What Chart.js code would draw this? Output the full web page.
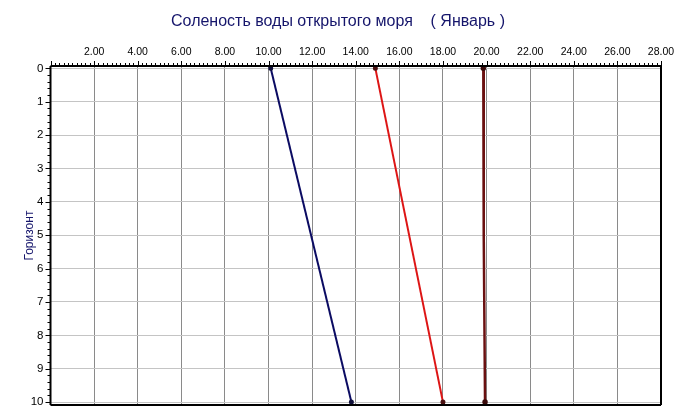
<!DOCTYPE html>
<html>
<head>
<meta charset="utf-8">
<script src="https://cdn.jsdelivr.net/npm/chart.js"></script>
<style>
  body { margin: 0; background: #fff; }
  #wrap { position: relative; width: 675px; height: 419px; }
</style>
</head>
<body>
<div id="wrap"><canvas id="chart" width="675" height="419"></canvas></div>
<script>
const chartTitle = 'Соленость воды открытого моря    ( Январь )';
const yTitle = 'Горизонт';

// depth horizons and salinity per series
const depthsA = [0, 10];
const salinityA = [10.1, 13.8];
const depthsB = [0, 10];
const salinityB = [14.9, 18.0];
const depthsC = [0, 5, 10];
const salinityC = [19.85, 19.87, 19.93];

const xTicks = [0, 2, 4, 6, 8, 10, 12, 14, 16, 18, 20, 22, 24, 26, 28];
const yTicks = [0, 1, 2, 3, 4, 5, 6, 7, 8, 9, 10];

const toPoints = (xs, ys) => xs.map((x, i) => ({ x: x, y: ys[i] }));

// title, outer frame and minor tick marks
const decor = {
  id: 'decor',
  afterDraw(chart) {
    const ctx = chart.ctx;
    const area = chart.chartArea;
    const xs = chart.scales.x;
    const ys = chart.scales.y;
    ctx.save();
    ctx.fillStyle = '#15156b';
    ctx.font = '16px "Liberation Sans", Arial, sans-serif';
    ctx.textAlign = 'center';
    ctx.textBaseline = 'middle';
    ctx.fillText(chartTitle, 338, 22);

    ctx.strokeStyle = '#000';
    ctx.lineWidth = 1;
    ctx.beginPath();
    // top axis ticks
    for (let v = 0; v <= 28.001; v += 0.2) {
      const px = Math.round(xs.getPixelForValue(v)) + 0.5;
      const major = Math.abs(v / 2 - Math.round(v / 2)) < 0.001;
      ctx.moveTo(px, area.top);
      ctx.lineTo(px, area.top - (major ? 5 : 3));
    }
    // left axis ticks
    for (let v = 0; v <= 10.001; v += 0.2) {
      const py = Math.round(ys.getPixelForValue(v)) + 0.5;
      const major = Math.abs(v - Math.round(v)) < 0.001;
      ctx.moveTo(area.left, py);
      ctx.lineTo(area.left - (major ? 5 : 3), py);
    }
    ctx.stroke();

    ctx.lineWidth = 2;
    ctx.beginPath();
    ctx.moveTo(area.left, area.top);
    ctx.lineTo(area.right, area.top);
    ctx.moveTo(area.left, area.top);
    ctx.lineTo(area.left, area.bottom);
    ctx.moveTo(area.left, area.bottom);
    ctx.lineTo(area.right, area.bottom);
    ctx.moveTo(area.right, area.top);
    ctx.lineTo(area.right, area.bottom);
    ctx.stroke();
    ctx.restore();
  }
};

new Chart(document.getElementById('chart'), {
  type: 'scatter',
  data: {
    datasets: [
      {
        data: toPoints(salinityA, depthsA),
        showLine: true,
        borderColor: '#0b0b62',
        borderWidth: 2,
        pointRadius: 1.5,
        pointBackgroundColor: '#10103a',
        pointBorderColor: '#10103a'
      },
      {
        data: toPoints(salinityB, depthsB),
        showLine: true,
        borderColor: '#dd1515',
        borderWidth: 2,
        pointRadius: 1.5,
        pointBackgroundColor: '#4a1010',
        pointBorderColor: '#4a1010'
      },
      {
        data: toPoints(salinityC, depthsC),
        showLine: true,
        borderColor: '#6a1010',
        borderWidth: 2.5,
        pointRadius: [1.5, 0, 1.5],
        pointBackgroundColor: '#3a0a0a',
        pointBorderColor: '#3a0a0a'
      }
    ]
  },
  options: {
    responsive: false,
    animation: false,
    layout: { padding: { left: 0, top: 0, right: 0, bottom: 13 } },
    plugins: {
      legend: { display: false },
      tooltip: { enabled: false }
    },
    scales: {
      x: {
        type: 'linear',
        position: 'top',
        min: 0,
        max: 28,
        afterBuildTicks: s => { s.ticks = xTicks.map(v => ({ value: v })); },
        afterFit: s => { s.height = 66; s.paddingRight = 14; },
        ticks: {
          color: '#000',
          font: { family: '"Liberation Sans", Arial, sans-serif', size: 10.5 },
          maxRotation: 0,
          padding: 8,
          callback: v => (v === 0 ? '' : v.toFixed(2))
        },
        grid: { color: '#8a8a8a', lineWidth: 1, drawTicks: false },
        border: { display: false }
      },
      y: {
        type: 'linear',
        reverse: true,
        min: -0.07,
        max: 10.09,
        afterBuildTicks: s => { s.ticks = yTicks.map(v => ({ value: v })); },
        afterFit: s => { s.width = 50.5; },
        ticks: {
          color: '#000',
          font: { family: '"Liberation Sans", Arial, sans-serif', size: 11.5 },
          padding: 7
        },
        title: {
          display: true,
          text: yTitle,
          color: '#15156b',
          font: { family: '"Liberation Sans", Arial, sans-serif', size: 12 },
          padding: { top: 22, bottom: 0 }
        },
        grid: { color: '#c4c4c4', lineWidth: 1, drawTicks: false },
        border: { display: false }
      }
    }
  },
  plugins: [decor]
});
</script>
</body>
</html>
